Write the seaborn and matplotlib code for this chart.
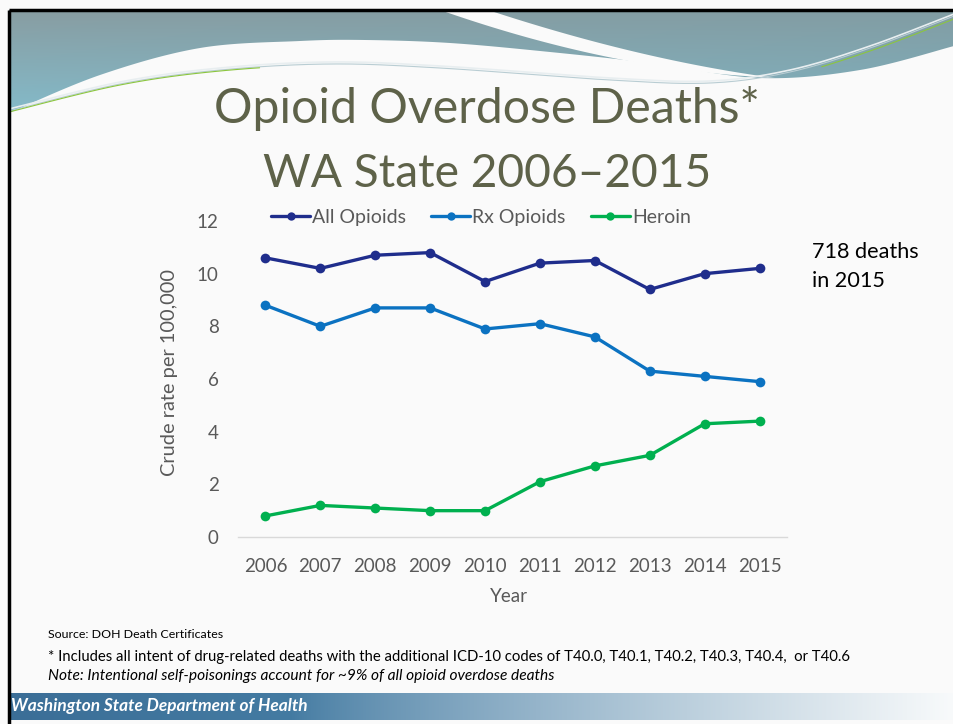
import numpy as np
import pandas as pd
import matplotlib
matplotlib.use("Agg")
import matplotlib.pyplot as plt
import seaborn as sns
from matplotlib.patches import Polygon
from matplotlib.lines import Line2D

# ---------------- data ----------------
years = [2006, 2007, 2008, 2009, 2010, 2011, 2012, 2013, 2014, 2015]
all_opioids = [10.6, 10.2, 10.7, 10.8, 9.7, 10.4, 10.5, 9.4, 10.0, 10.2]
rx_opioids = [8.8, 8.0, 8.7, 8.7, 7.9, 8.1, 7.6, 6.3, 6.1, 5.9]
heroin = [0.8, 1.2, 1.1, 1.0, 1.0, 2.1, 2.7, 3.1, 4.3, 4.4]
series_names = ["All Opioids", "Rx Opioids", "Heroin"]
y_ticks = [0, 2, 4, 6, 8, 10, 12]

title_lines = ["Opioid Overdose Deaths*", "WA State 2006\u20132015"]
annotation = ["718 deaths", "in 2015"]
footnotes = [
    "Source: DOH Death Certificates",
    "* Includes all intent of drug-related deaths with the additional ICD-10 codes of T40.0, T40.1, T40.2, T40.3, T40.4,  or T40.6",
    "Note: Intentional self-poisonings account for ~9% of all opioid overdose deaths",
]
footer_label = "Washington State Department of Health"

colors = {"All Opioids": "#1f2d8c", "Rx Opioids": "#0b72c1", "Heroin": "#00b04f"}

df = pd.DataFrame({
    "Year": years * 3,
    "Rate": all_opioids + rx_opioids + heroin,
    "Series": [s for s in series_names for _ in years],
})

# ---------------- theme ----------------
sns.set_theme(style="white")
plt.rcParams["font.family"] = ["Lato", "DejaVu Sans"]

W, H = 954, 724
fig = plt.figure(figsize=(W / 100, H / 100), dpi=100)
fig.patch.set_facecolor("#fafafa")
renderer = fig.canvas.get_renderer()


def fy(y):
    return 1 - y / H


def fit(t, width_px):
    bb = t.get_window_extent(renderer)
    t.set_fontsize(t.get_fontsize() * width_px / bb.width)
    return t


def bez(p0, p1, p2, n=60):
    s = np.linspace(0, 1, n)[:, None]
    p0, p1, p2 = map(np.asarray, (p0, p1, p2))
    return (1 - s) ** 2 * p0 + 2 * (1 - s) * s * p1 + s ** 2 * p2


def catmull(pts, n=30):
    pts = np.asarray(pts, float)
    pts = np.vstack([pts[0], pts, pts[-1]])
    out = []
    for i in range(1, len(pts) - 2):
        p0, p1, p2, p3 = pts[i - 1], pts[i], pts[i + 1], pts[i + 2]
        for s in np.linspace(0, 1, n, endpoint=False):
            out.append(0.5 * ((2 * p1) + (-p0 + p2) * s + (2 * p0 - 5 * p1 + 4 * p2 - p3) * s ** 2
                              + (-p0 + 3 * p1 - 3 * p2 + p3) * s ** 3))
    out.append(pts[-2])
    return np.array(out)


# ---------------- slide decoration ----------------
bg = fig.add_axes([0, 0, 1, 1], zorder=0)
bg.set_xlim(0, W)
bg.set_ylim(H, 0)
bg.axis("off")

# header teal shape
lower = catmull([(9, 113), (100, 75), (200, 48), (300, 41), (365, 40), (450, 43),
                 (550, 52), (650, 63), (760, 78), (860, 70), (954, 46)])
hdr_poly = np.vstack([[(9, 10)], lower, [(954, 10)]])
hdr_patch = Polygon(hdr_poly, closed=True, facecolor="none", edgecolor="none")
bg.add_patch(hdr_patch)
gy = np.linspace(0, 1, 120)[:, None]
gx = np.linspace(0, 1, 300)[None, :]
top_c = np.array([0x88, 0x9d, 0xa2]) / 255
bot_c = np.array([0x84, 0xbb, 0xca]) / 255
right_c = np.array([0x76, 0x9c, 0xa6]) / 255
img = (1 - gy)[..., None] * top_c + gy[..., None] * bot_c
img = img * (1 - 0.35 * gx[..., None]) + 0.35 * gx[..., None] * right_c
im = bg.imshow(img, extent=(9, 954, 115, 10), aspect="auto", zorder=1, interpolation="bilinear")
im.set_clip_path(hdr_patch)

# white swoosh
sw_up = bez((488, 10), (640, 60), (775, 78))
sw_lo = bez((440, 10), (600, 66), (745, 76))
bg.add_patch(Polygon(np.vstack([sw_up, sw_lo[::-1]]), closed=True,
                     facecolor="#fafafa", edgecolor="none", zorder=2))

# thin decorative lines
curve = catmull([(9, 109), (120, 82), (220, 68), (330, 62), (440, 66), (610, 78),
                 (710, 81), (790, 70), (870, 46), (954, 14)])
bg.plot(curve[:, 0], curve[:, 1], color="#e8eef0", lw=1.2, zorder=3)
bg.plot(curve[:, 0], curve[:, 1] + 2, color="#b9cdd3", lw=0.8, zorder=3)
bg.plot(curve[curve[:, 0] < 260, 0], curve[curve[:, 0] < 260, 1] + 3, color="#8cc63f", lw=0.8, zorder=3)
bg.plot(curve[curve[:, 0] > 820, 0], curve[curve[:, 0] > 820, 1] + 5, color="#8cc63f", lw=0.8, zorder=3)

# footer gradient bar
fx = np.linspace(0, 1, 400)
c_dark = np.array([0x3b, 0x6e, 0x97]) / 255
c_mid = np.array([0x44, 0x7b, 0xa2]) / 255
c_light = np.array([0xf8, 0xfa, 0xfb]) / 255
row = []
for v in fx:
    if v < 0.3:
        row.append(c_dark + (c_mid - c_dark) * v / 0.3)
    else:
        u = (v - 0.3) / 0.7
        row.append(c_mid + (c_light - c_mid) * u ** 0.8)
bg.imshow(np.array(row)[None, :, :], extent=(9, 954, 720, 693), aspect="auto", zorder=1)

# black border
bg.plot([9, 9], [10, 724], color="black", lw=2.5, zorder=5, solid_capstyle="butt")
bg.plot([9, 954], [10, 10], color="black", lw=2.5, zorder=5, solid_capstyle="butt")

# ---------------- chart ----------------
ax = fig.add_axes([238 / W, fy(537), (787 - 238) / W, (537 - 221) / H], zorder=2)
ax.set_facecolor("none")
sns.lineplot(data=df, x="Year", y="Rate", hue="Series", hue_order=series_names,
             palette=colors, marker="o", markersize=7, markeredgewidth=0,
             linewidth=2.4, ax=ax, legend=False)
ax.set_xlim(2005.5, 2015.5)
ax.set_ylim(0, 12)
ax.set_xticks(years)
ax.set_yticks(y_ticks)
ax.set_xlabel("")
ax.set_ylabel("")
for s in ["left", "top", "right"]:
    ax.spines[s].set_visible(False)
ax.spines["bottom"].set_color("#d9d9d9")
ax.spines["bottom"].set_linewidth(1.0)
ax.grid(False)
ax.tick_params(length=0, colors="#595959", labelsize=13.5)
ax.tick_params(axis="y", pad=14)
ax.tick_params(axis="x", pad=15)
ax.set_xticklabels([str(y) for y in years])
ax.set_yticklabels([str(v) for v in y_ticks])

handles = [Line2D([0], [0], color=colors[s], lw=2.4, marker="o", markersize=6,
                  markeredgewidth=0) for s in series_names]
fig.legend(handles, series_names, loc="center", bbox_to_anchor=(481 / W, fy(217)),
           ncol=3, frameon=False, fontsize=14, handlelength=2.0, handletextpad=0.1,
           columnspacing=1.3, labelcolor="#595959")

yl = fig.text(170 / W, fy(372), "Crude rate per 100,000", rotation=90, ha="center", va="center",
              color="#595959", fontsize=13.5)
bb = yl.get_window_extent(renderer)
yl.set_fontsize(yl.get_fontsize() * 207 / bb.height)
fig.text(509 / W, fy(596), "Year", ha="center", va="center", color="#595959", fontsize=13.5)

# titles
t1 = fig.text(487 / W, fy(123), title_lines[0], ha="center", va="baseline",
              color="#5e6249", fontsize=38, fontweight="normal")
fit(t1, 545)
t2 = fig.text(487 / W, fy(187), title_lines[1], ha="center", va="baseline",
              color="#5e6249", fontsize=38, fontweight="normal")
fit(t2, 449)

# annotation
a1 = fig.text(812 / W, fy(252), annotation[0], ha="left", va="center", color="black", fontsize=14)
fit(a1, 107)
a2 = fig.text(812 / W, fy(281), annotation[1], ha="left", va="center", color="black",
              fontsize=a1.get_fontsize())

# footnotes
f1 = fig.text(48 / W, fy(635), footnotes[0], ha="left", va="center", color="black", fontsize=9)
fit(f1, 175)
f2 = fig.text(48 / W, fy(657), footnotes[1], ha="left", va="center", color="black", fontsize=9)
fit(f2, 807)
f3 = fig.text(48 / W, fy(676), footnotes[2], ha="left", va="center", color="black", fontsize=9,
              style="italic")
fit(f3, 505)
f4 = fig.text(11 / W, fy(706), footer_label, ha="left", va="center", color="white", fontsize=10,
              style="italic", fontweight="bold")
fit(f4, 296)

fig.savefig("out.png", dpi=100, facecolor=fig.get_facecolor())
